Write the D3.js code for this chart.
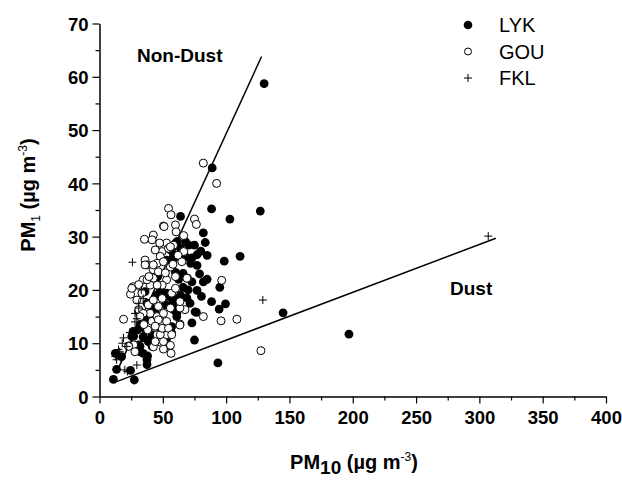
<!DOCTYPE html>
<html>
<head>
<meta charset="utf-8">
<script src="https://cdn.jsdelivr.net/npm/d3@7"></script>
<style>
  body { margin: 0; background: #fff; }
  svg text { font-family: Arial, "Liberation Sans", sans-serif; fill: #000; }
  .tick text { font-weight: bold; font-size: 18.5px; }
</style>
</head>
<body>
<svg id="chart"></svg>
<script>
"use strict";

// LYK site (filled circles), [PM10, PM1]
var lyk = [
  [130, 58.7], [89, 42.9], [88.5, 35.2], [127, 34.8], [103, 33.3], [64, 33.8],
  [82, 30.7], [83.5, 28.9], [75, 28.4], [70.5, 28.4], [60, 28.8], [85, 26.5],
  [77, 26.6], [111, 26.3], [98.5, 25.4], [58.5, 25.8], [77, 24.6], [66, 23.1],
  [85, 22.0], [95, 20.5], [77, 19.9], [80.5, 18.8], [88.5, 17.8], [99.5, 17.4],
  [71.5, 17.5], [76.5, 15.8], [94.5, 16.4], [73, 13.8], [75, 10.6], [57, 18.4],
  [61, 15.0], [56, 11.6], [52, 17.2], [53, 18.8], [53, 25.6], [60, 23.3],
  [62.5, 22.0], [145, 15.7], [197, 11.7], [93.5, 6.3], [11, 3.2], [27.5, 3.1],
  [13.5, 5.1], [24.5, 4.9], [37.5, 6.0], [37.5, 6.9], [34.5, 8.1], [32, 9.4],
  [27, 11.3], [34.5, 11.2], [40, 10.6], [33.5, 13.1], [36, 14.4], [32, 15.9],
  [42.5, 14.4], [46.5, 13.1], [52, 12.2], [57, 13.1], [52, 9.4], [41.5, 9.4],
  [36, 19.7], [53, 19.4], [48, 20.0], [60, 16.9], [61, 15.6], [58.5, 26.6],
  [56, 27.5], [61.5, 29.1], [58.5, 28.1], [17.5, 7.5], [12.5, 8.1], [32, 8.4],
  [26.5, 12.2], [25.5, 11.3], [31, 9.7], [32, 13.4], [35, 11.0], [38.5, 10.3],
  [33.5, 14.7], [31, 15.9], [37.5, 17.5], [41.5, 11.6], [57, 17.2], [58.5, 16.3],
  [57, 11.9], [53, 10.9], [75.5, 15.9], [61, 18.4], [68, 26.2], [72, 25.0],
  [45, 19.0], [40, 17.0], [44, 16.0], [66, 20.5], [70, 20.0], [46, 22.5],
  [73, 26.0], [80, 27.3], [68, 29.0], [64, 27.8], [79, 23.0], [82, 21.5],
  [69, 18.5], [73, 21.5], [64, 19.0], [38, 7.6], [36, 12.6], [30, 12.5]
];

// GOU site (open circles)
var gou = [
  [82, 43.8], [92.5, 40.0], [54.5, 35.3], [56.5, 34.1], [50.5, 32.0], [60, 32.2],
  [60.5, 30.9], [42.5, 30.3], [41.5, 29.4], [35.5, 29.5], [66.5, 30.2], [75, 33.3],
  [76.5, 32.3], [53, 28.8], [49.5, 27.2], [66.5, 27.2], [48, 26.3], [36, 25.6],
  [37.5, 24.7], [45.5, 25.0], [50.5, 25.3], [65, 25.3], [56, 24.3], [42.5, 23.8],
  [46.5, 23.4], [34.5, 21.9], [42.5, 22.2], [53, 21.9], [60, 22.5], [69.5, 22.2],
  [96.5, 21.8], [26.5, 20.6], [40, 20.9], [49.5, 20.9], [58.5, 28.4], [54.5, 27.8],
  [51, 31.9], [24.5, 19.2], [19, 14.5], [96, 14.2], [82, 15.0], [108.5, 14.5],
  [127.5, 8.6], [67.5, 16.3], [63.5, 13.6], [56, 9.6], [56.5, 8.1], [50.5, 8.9],
  [48, 10.2], [42.5, 9.3], [53, 11.6], [45.5, 11.6], [50.5, 12.8], [48, 14.1],
  [41.5, 14.1], [45.5, 15.0], [40, 15.6], [50.5, 15.6], [56, 16.6], [46.5, 16.9],
  [38.5, 17.2], [42.5, 18.1], [49.5, 18.4], [57, 19.4], [60, 20.3], [45.5, 20.9],
  [37.5, 21.9], [33.5, 19.4], [29.5, 18.1], [31, 16.3], [34.5, 15.6], [32, 15.0],
  [27, 9.7], [23, 9.5], [28, 8.4], [36, 24.7], [42.5, 24.7], [56, 28.1],
  [69, 22.2], [63.5, 13.4], [25.5, 20.3], [23, 9.4], [48, 11.6], [49.5, 12.8],
  [46.5, 14.4], [53, 14.1], [54.5, 12.8], [44, 10.3], [50.5, 10.3], [57, 11.6],
  [63.5, 16.6], [63.5, 17.8], [38, 12.5], [44, 13.2], [39, 22.5], [52, 23.2],
  [58, 24.8], [62, 26.5], [35, 13.5], [31, 21.0], [47.5, 28.8], [44, 27.5]
];

// FKL site (plus signs)
var fkl = [
  [307, 30.1], [129, 18.1], [26, 25.2], [31, 16.6], [29.5, 14.6], [28, 15.6],
  [27, 12.2], [24, 12.0], [19, 11.0], [18, 10.0], [15, 8.8], [14, 7.8],
  [13.5, 6.9], [12.5, 7.5], [16, 8.4], [21.5, 9.4], [20, 5.0], [22, 4.7],
  [29.5, 5.9], [34.5, 18.4], [33, 20.0], [28, 14.0], [31, 17.5], [17, 7.2]
];

// reference lines (endpoints)
var nonDustLine = [[14, 4.8], [128, 63.8]];
var dustLine = [[13.5, 2.8], [313, 29.7]];

var xTicks = [0, 50, 100, 150, 200, 250, 300, 350, 400];
var yTicks = [0, 10, 20, 30, 40, 50, 60, 70];
var legendNames = ["LYK", "GOU", "FKL"];

var width = 622, height = 481;
var plot = {left: 99.5, right: 606, top: 23.5, bottom: 396.5};

var svg = d3.select("#chart").attr("width", width).attr("height", height);

var xScale = d3.scaleLinear().domain([0, 400]).range([plot.left, plot.right]);
var yScale = d3.scaleLinear().domain([0, 70]).range([plot.bottom, plot.top]);

// minor ticks first
svg.append("g")
  .attr("transform", "translate(0," + plot.bottom + ")")
  .call(d3.axisBottom(xScale).tickValues(d3.range(25, 400, 50)).tickSize(4).tickSizeOuter(0).tickFormat(""))
  .call(function(g) { g.select(".domain").remove(); });
svg.append("g")
  .attr("transform", "translate(" + plot.left + ",0)")
  .call(d3.axisLeft(yScale).tickValues(d3.range(5, 70, 10)).tickSize(4).tickSizeOuter(0).tickFormat(""))
  .call(function(g) { g.select(".domain").remove(); });

var xAxis = svg.append("g")
  .attr("transform", "translate(0," + plot.bottom + ")")
  .call(d3.axisBottom(xScale).tickValues(xTicks).tickSize(7).tickSizeOuter(0).tickPadding(2));
var yAxis = svg.append("g")
  .attr("transform", "translate(" + plot.left + ",0)")
  .call(d3.axisLeft(yScale).tickValues(yTicks).tickSize(7).tickSizeOuter(0).tickPadding(4));

svg.selectAll(".domain").attr("stroke-width", 1.5);
svg.selectAll(".tick line").attr("stroke-width", 1.2);
xAxis.selectAll(".tick text").attr("dy", "1em");
yAxis.selectAll(".tick text").attr("dy", "0.36em");

// lines
var line = d3.line()
  .x(function(d) { return xScale(d[0]); })
  .y(function(d) { return yScale(d[1]); });

svg.append("path").datum(nonDustLine).attr("d", line)
  .attr("fill", "none").attr("stroke", "#000").attr("stroke-width", 1.5);
svg.append("path").datum(dustLine).attr("d", line)
  .attr("fill", "none").attr("stroke", "#000").attr("stroke-width", 1.5);

// points
var pts = svg.append("g");
pts.selectAll(".lyk").data(lyk).enter().append("circle")
  .attr("class", "lyk")
  .attr("cx", function(d) { return xScale(d[0]); })
  .attr("cy", function(d) { return yScale(d[1]); })
  .attr("r", 4.4)
  .attr("fill", "#000");

pts.selectAll(".gou").data(gou).enter().append("circle")
  .attr("class", "gou")
  .attr("cx", function(d) { return xScale(d[0]); })
  .attr("cy", function(d) { return yScale(d[1]); })
  .attr("r", 4)
  .attr("fill", "#fff")
  .attr("stroke", "#000")
  .attr("stroke-width", 1);

pts.selectAll(".fkl").data(fkl).enter().append("path")
  .attr("class", "fkl")
  .attr("transform", function(d) { return "translate(" + xScale(d[0]) + "," + yScale(d[1]) + ")"; })
  .attr("d", "M-4,0H4M0,-4V4")
  .attr("stroke", "#000")
  .attr("stroke-width", 1);

// annotations
svg.append("text").attr("x", 137).attr("y", 62)
  .attr("font-size", 19).attr("font-weight", "bold").text("Non-Dust");
svg.append("text").attr("x", 450).attr("y", 295)
  .attr("font-size", 19).attr("font-weight", "bold").text("Dust");

// legend
var legend = svg.append("g").attr("transform", "translate(468,25)");
var rows = legend.selectAll("g").data(legendNames).enter().append("g")
  .attr("transform", function(d, i) { return "translate(0," + (i * 26.5) + ")"; });
rows.append("text").attr("x", 31).attr("y", 7)
  .attr("font-size", 20).text(function(d) { return d; });
rows.filter(function(d, i) { return i === 0; }).append("circle")
  .attr("r", 4.3).attr("fill", "#000");
rows.filter(function(d, i) { return i === 1; }).append("circle")
  .attr("r", 3.5).attr("fill", "#fff").attr("stroke", "#000");
rows.filter(function(d, i) { return i === 2; }).append("path")
  .attr("d", "M-4,0H4M0,-4V4").attr("stroke", "#000");

// axis titles
var xt = svg.append("text").attr("x", 354).attr("y", 469)
  .attr("text-anchor", "middle").attr("font-size", 20).attr("font-weight", "bold");
xt.append("tspan").text("PM");
xt.append("tspan").attr("font-size", 19).attr("dy", 5).text("10");
xt.append("tspan").attr("dy", -5).text(" (µg m");
xt.append("tspan").attr("font-size", 12).attr("font-weight", "normal").attr("dy", -8).text("-3");
xt.append("tspan").attr("dy", 8).text(")");

var yt = svg.append("text")
  .attr("transform", "translate(35,195) rotate(-90)")
  .attr("text-anchor", "middle").attr("font-size", 20).attr("font-weight", "bold");
yt.append("tspan").text("PM");
yt.append("tspan").attr("font-size", 12).attr("font-weight", "normal").attr("dy", 5).text("1");
yt.append("tspan").attr("dy", -5).text(" (µg m");
yt.append("tspan").attr("font-size", 12).attr("font-weight", "normal").attr("dy", -8).text("-3");
yt.append("tspan").attr("dy", 8).text(")");
</script>
</body>
</html>
